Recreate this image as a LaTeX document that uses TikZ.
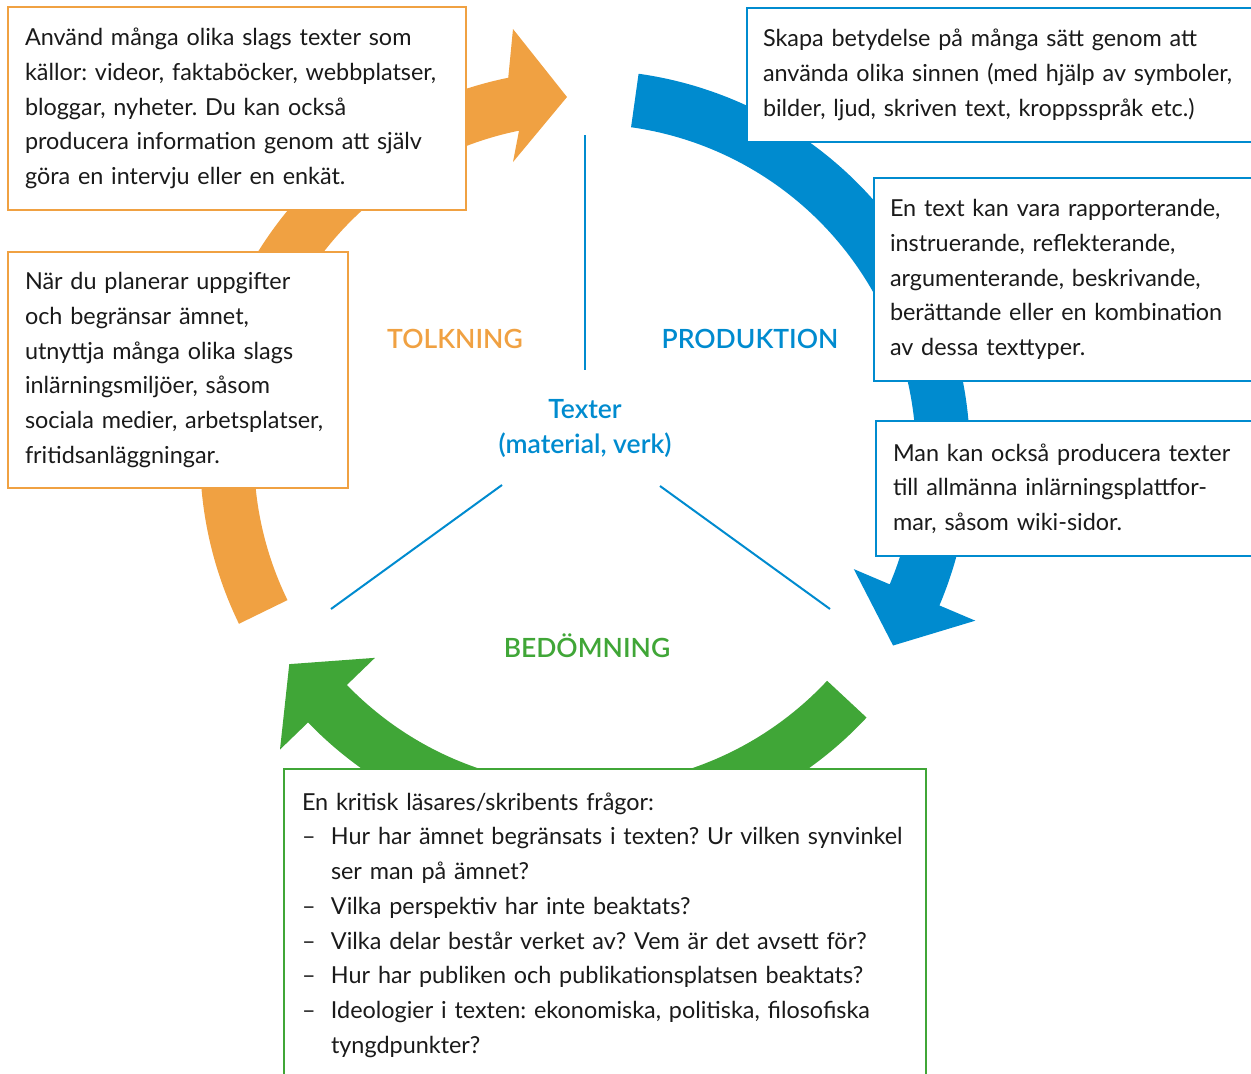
\documentclass[tikz,border=0pt]{standalone}
\usepackage{fontspec}
\setmainfont{Lato}
\newfontfamily\labelfont{Lato Semibold}
\usepackage{xcolor}
\usetikzlibrary{calc}
\definecolor{tolkC}{HTML}{F0A142}
\definecolor{prodC}{HTML}{008BCF}
\definecolor{bedC}{HTML}{40A637}
\definecolor{bodytxt}{HTML}{1A1A1A}
\frenchspacing

\begin{document}
\begin{tikzpicture}[x=1pt, y=1pt,
infobox/.style={rectangle, draw, line width=2pt, fill=white, anchor=north west, align=left, inner xsep=17pt, inner ysep=0pt, text=bodytxt, font=\fontsize{23.4}{34.7}\selectfont},
tolkbox/.style={infobox, draw=tolkC},
prodbox/.style={infobox, draw=prodC},
bedbox/.style={infobox, draw=bedC},
phase/.style={font=\labelfont\fontsize{26.5}{35}\selectfont},
spoke/.style={prodC, line width=2pt},
]
\useasboundingbox (0,0) rectangle (1251,-1074);
\coordinate (C) at (585,-455);
% \draw[help lines,step=50,gray!20] (0,0) grid (1251,-1074);

%Arcs
\fill[tolkC] ($(C)+(206:385)$) arc[start angle=206, end angle=101.5, radius=385]
  -- (513,-29) -- (567,-97) -- (513,-162)
  -- ($(C)+(101.5:331)$) arc[start angle=101.5, end angle=206, radius=331] -- cycle;
\fill[prodC] ($(C)+(82:385)$) arc[start angle=82, end angle=-23, radius=385]
  -- ($(C)+(-23:424)$) -- ($(C)+(-23:358)+(-113:55)$) -- ($(C)+(-23:292)$)
  -- ($(C)+(-23:331)$) arc[start angle=-23, end angle=82, radius=331] -- cycle;
\fill[bedC] ($(C)+(-43:385)$) arc[start angle=-43, end angle=-136, radius=385]
  -- ($(C)+(-136:424)$) -- ($(C)+(-136:358)+(-226:55)$) -- ($(C)+(-136:292)$)
  -- ($(C)+(-136:331)$) arc[start angle=-136, end angle=-43, radius=331] -- cycle;

%Nodes
\node[tolkbox, text width=424pt, minimum height=203pt] (kallor) at (7,-6)
  {Använd många olika slags texter som\\källor: videor, faktaböcker, webbplatser,\\bloggar, nyheter. Du kan också\\producera information genom att själv\\göra en intervju eller en enkät.};
\node[tolkbox, text width=306pt, minimum height=236pt] (planering) at (7,-251)
  {När du planerar uppgifter\\och begränsar ämnet,\\utnyttja många olika slags\\inlärningsmiljöer, såsom\\sociala medier, arbetsplatser,\\fritidsanläggningar.};
\node[prodbox, text width=560pt, minimum height=134pt, inner xsep=16pt] (betydelse) at (746,-7)
  {Skapa betydelse på många sätt genom att\\använda olika sinnen (med hjälp av symboler,\\bilder, ljud, skriven text, kroppsspråk etc.)};
\node[prodbox, text width=460pt, minimum height=203pt, inner xsep=16pt] (texttyper) at (873,-177)
  {En text kan vara rapporterande,\\instruerande, reflekterande,\\argumenterande, beskrivande,\\berättande eller en kombination\\av dessa texttyper.};
\node[prodbox, text width=460pt, minimum height=135pt] (plattformar) at (875,-420)
  {Man kan också producera texter\\till allmänna inlärningsplattfor-\\mar, såsom wiki-sidor.};
\node[bedbox, text width=606pt, minimum height=312pt, inner xsep=18pt] (fragor) at (283,-768)
  {En kritisk läsares/skribents frågor:\\
   \makebox[29pt][l]{–}Hur har ämnet begränsats i texten? Ur vilken synvinkel\\
   \hspace*{29pt}ser man på ämnet?\\
   \makebox[29pt][l]{–}Vilka perspektiv har inte beaktats?\\
   \makebox[29pt][l]{–}Vilka delar består verket av? Vem är det avsett för?\\
   \makebox[29pt][l]{–}Hur har publiken och publikationsplatsen beaktats?\\
   \makebox[29pt][l]{–}Ideologier i texten: ekonomiska, politiska, filosofiska\\
   \hspace*{29pt}tyngdpunkter?};

\node[phase, text=tolkC] (tolkning) at (455,-339) {TOLKNING};
\node[phase, text=prodC] (produktion) at (750,-339) {PRODUKTION};
\node[phase, text=bedC] (bedomning) at (587,-646) {BEDÖMNING};
\node[phase, text=prodC, align=center] (texter) at (585,-428) {Texter\\(material, verk)};

%Lines
\coordinate (spokeNa) at (585,-135);
\coordinate (spokeNb) at (585,-370);
\coordinate (spokeWa) at (502,-485);
\coordinate (spokeWb) at (331,-609);
\coordinate (spokeEa) at (660,-486);
\coordinate (spokeEb) at (830,-609);
\draw[spoke] (spokeNa) -- (spokeNb);
\draw[spoke] (spokeWa) -- (spokeWb);
\draw[spoke] (spokeEa) -- (spokeEb);
\end{tikzpicture}
\end{document}
